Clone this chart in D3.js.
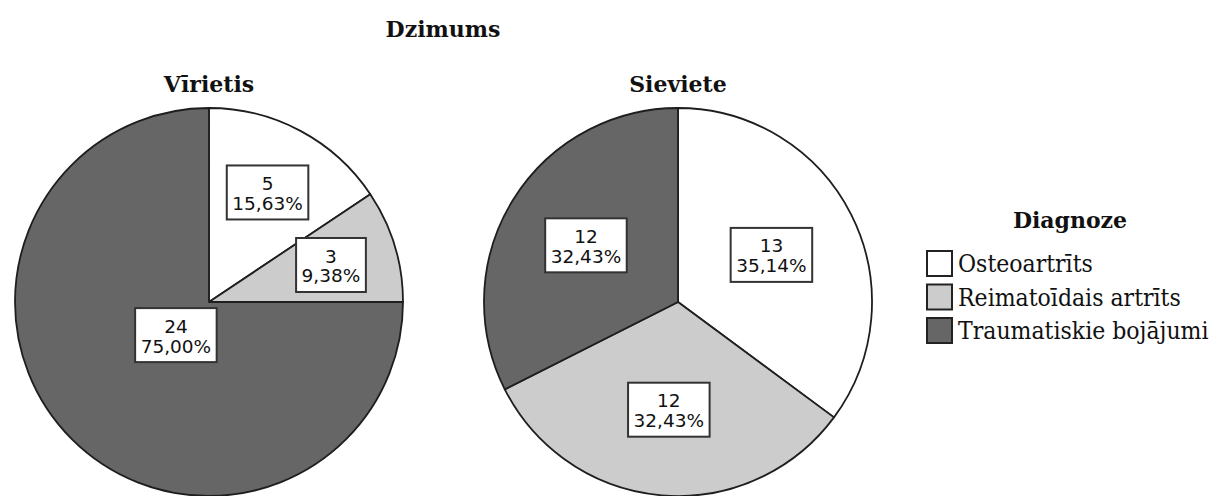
<!DOCTYPE html>
<html>
<head>
<meta charset="utf-8">
<script src="https://cdn.jsdelivr.net/npm/d3@7"></script>
<style>
  body { margin: 0; background: #fff; }
  svg { display: block; }
</style>
</head>
<body>
<svg id="chart" width="1216" height="496"></svg>
<script>
// data
const chartTitle = "Dzimums";
const legendTitle = "Diagnoze";
const diagnoses = ["Osteoartrīts", "Reimatoīdais artrīts", "Traumatiskie bojājumi"];
const genders = ["Vīrietis", "Sieviete"];
const maleCounts = [5, 3, 24];
const femaleCounts = [13, 12, 12];
const fills = ["#ffffff", "#cccccc", "#666666"];

const W = 1216, H = 496;
const R = 194;
const pieTop = 108;

const svg = d3.select('#chart');

// pie centres along a point scale
const x = d3.scalePoint().domain(genders).range([209, 678]);

const color = d3.scaleOrdinal().domain(diagnoses).range(fills);

const pie = d3.pie().sort(null).value(d => d.n);
const arc = d3.arc().innerRadius(0).outerRadius(R);

const fmt = v => v.toFixed(2).replace('.', ',') + '%';

const titleStyle = sel => sel
  .attr('text-anchor', 'middle')
  .style('font-family', 'DejaVu Serif').style('font-weight', 'bold').style('font-size', '22px')
  .attr('fill', '#111');

svg.append('text')
  .attr('x', 443).attr('y', 37)
  .call(titleStyle)
  .text(chartTitle);

// does a point lie in the slice with a little margin
const inSlice = (px, py, a0, a1, m) => {
  const r = Math.hypot(px, py);
  if (r > R - m) return false;
  if (r < m) return false;
  let phi = Math.atan2(px, -py);
  if (phi < 0) phi += 2 * Math.PI;
  if (phi < a0 || phi > a1) return false;
  const d0 = phi - a0, d1 = a1 - phi;
  if (d0 < Math.PI / 2 && r * Math.sin(d0) < m) return false;
  if (d1 < Math.PI / 2 && r * Math.sin(d1) < m) return false;
  return true;
};

const boxFits = (cx, cy, bw, bh, a0, a1) => {
  const steps = 12;
  if (Math.abs(cx) < bw / 2 + 3 && Math.abs(cy) < bh / 2 + 3) return false;
  for (let i = 0; i <= steps; i++) {
    const t = i / steps;
    const pts = [
      [cx - bw / 2 + t * bw, cy - bh / 2],
      [cx - bw / 2 + t * bw, cy + bh / 2],
      [cx - bw / 2, cy - bh / 2 + t * bh],
      [cx + bw / 2, cy - bh / 2 + t * bh]
    ];
    for (const p of pts) {
      if (!inSlice(p[0], p[1], a0, a1, 6)) return false;
    }
  }
  return true;
};

const drawPie = (name, counts) => {
  const total = d3.sum(counts);
  const rows = diagnoses.map((d, i) => ({ key: d, n: counts[i], pct: counts[i] / total * 100 }));
  const cx = x(name);
  const cy = pieTop + R;

  const g = svg.append('g').attr('transform', `translate(${cx},${cy})`);

  svg.append('text')
    .attr('x', cx).attr('y', 92)
    .call(titleStyle)
    .text(name);

  const arcs = pie(rows);

  g.selectAll('path.slice')
    .data(arcs)
    .join('path')
    .attr('class', 'slice')
    .attr('d', arc)
    .attr('fill', d => color(d.data.key))
    .attr('stroke', '#1e1e1e')
    .attr('stroke-width', 1.8)
    .attr('stroke-linejoin', 'round');

  arcs.forEach(a => {
    const lg = g.append('g');
    const t = lg.append('text')
      .attr('text-anchor', 'middle')
      .style('font-family', 'DejaVu Sans').style('font-size', '18.5px')
      .attr('fill', '#111');
    t.append('tspan').attr('x', 0).attr('dy', 0).text(a.data.n);
    t.append('tspan').attr('x', 0).attr('dy', '1.08em').text(fmt(a.data.pct));
    const tb = t.node().getBBox();
    const bw = tb.width + 11, bh = 54;

    // start from the area centroid of the sector
    const theta = a.endAngle - a.startAngle;
    const mid = (a.startAngle + a.endAngle) / 2;
    const dc = 4 * R * Math.sin(theta / 2) / (3 * theta);
    let px = Math.sin(mid) * dc, py = -Math.cos(mid) * dc;
    if (!boxFits(px, py, bw, bh, a.startAngle, a.endAngle)) {
      let found = false;
      for (let s = 1; s < R && !found; s++) {
        for (const dd of [dc + s, dc - s]) {
          const qx = Math.sin(mid) * dd, qy = -Math.cos(mid) * dd;
          if (dd > 0 && boxFits(qx, qy, bw, bh, a.startAngle, a.endAngle)) {
            px = qx; py = qy; found = true; break;
          }
        }
      }
    }

    lg.attr('transform', `translate(${px},${py})`);
    lg.insert('rect', 'text')
      .attr('x', -bw / 2).attr('y', -bh / 2)
      .attr('width', bw).attr('height', bh)
      .attr('fill', '#fff')
      .attr('stroke', '#333')
      .attr('stroke-width', 2);
    // centre text block vertically in the box
    const nb = t.node().getBBox();
    t.attr('transform', `translate(0,${-(nb.y + nb.height / 2) + 1})`);
  });
};

drawPie(genders[0], maleCounts);
drawPie(genders[1], femaleCounts);

// legend
const lx = 926, ly = 250, rowH = 33.5;
svg.append('text')
  .attr('x', 1070).attr('y', 228)
  .call(titleStyle)
  .text(legendTitle);

const items = svg.append('g').selectAll('g')
  .data(diagnoses)
  .join('g')
  .attr('transform', (d, i) => `translate(${lx},${ly + i * rowH})`);

items.append('rect')
  .attr('x', 1).attr('y', 1)
  .attr('width', 25).attr('height', 25)
  .attr('fill', d => color(d))
  .attr('stroke', '#222')
  .attr('stroke-width', 2);

items.append('text')
  .attr('x', 32).attr('y', 13.5)
  .attr('dy', '0.36em')
  .style('font-family', 'DejaVu Serif Condensed, DejaVu Serif').style('font-stretch', 'condensed')
  .style('font-size', '24.5px')
  .attr('fill', '#111')
  .text(d => d);
</script>
</body>
</html>
